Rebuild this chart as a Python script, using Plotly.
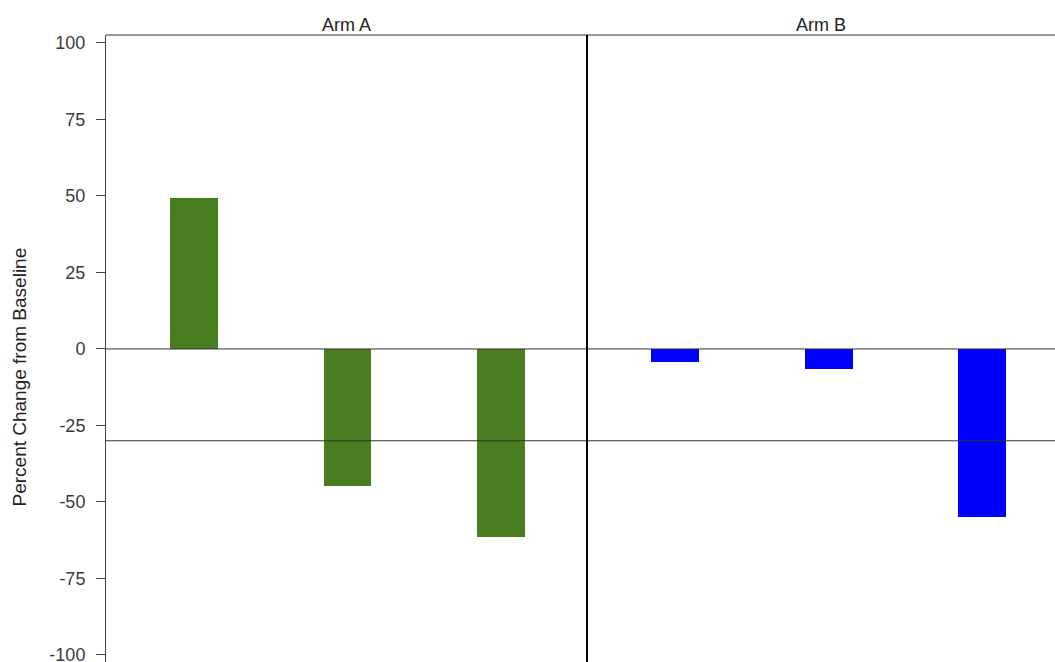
import plotly.graph_objects as go

# Percent change from baseline per subject, by treatment arm
subjects = [1, 2, 3]
arm_a_change = [49.2, -44.8, -61.5]
arm_b_change = [-4.2, -6.5, -54.8]
arm_names = ["Arm A", "Arm B"]
y_ticks = [-100, -75, -50, -25, 0, 25, 50, 75, 100]
y_tick_text = ["-100", "-75", "-50", "-25", "0", "25", "50", "75", "100"]
reference_levels = [0, -30]

W, H = 1055, 662
L, T = 106, 35
plot_w = W - L
split = (587 - L) / plot_w

fig = go.Figure()
fig.add_trace(go.Bar(x=subjects, y=arm_a_change, marker_color="#4a7d1f",
                     marker_line_width=0, width=0.31, xaxis="x", yaxis="y"))
fig.add_trace(go.Bar(x=subjects, y=arm_b_change, marker_color="#0000ff",
                     marker_line_width=0, width=0.31, xaxis="x2", yaxis="y"))

font = dict(family="Liberation Sans, Arial, sans-serif", size=18, color="#333333")

fig.update_layout(
    width=W, height=H,
    margin=dict(l=L, r=0, t=T, b=0, autoexpand=False),
    paper_bgcolor="white", plot_bgcolor="white",
    showlegend=False, font=font, bargap=0,
    xaxis=dict(domain=[0, split], range=[0.425, 3.56], showticklabels=False,
               showgrid=False, zeroline=False, ticks="", automargin=False),
    xaxis2=dict(domain=[split, 1], range=[0.425, 0.425 + (W - 587) / 153.5],
                showticklabels=False, showgrid=False, zeroline=False, ticks="",
                automargin=False),
    yaxis=dict(range=[-102.3, 102.6], tickvals=y_ticks, ticktext=y_tick_text,
               showgrid=False, zeroline=False, showline=True, automargin=False,
               linecolor="#444444", linewidth=1,
               ticks="outside", ticklen=9, tickcolor="#444444",
               ticklabelstandoff=7, ticklabeloverflow="allow",
               tickfont=dict(size=18, color="#3a3a44")),
)

# axis title
fig.add_annotation(text="Percent Change from Baseline", xref="paper", yref="paper",
                   x=0, y=0.5, xshift=-(L - 19), yshift=-29, textangle=-90,
                   showarrow=False, xanchor="center", yanchor="middle",
                   font=dict(size=19, color="#222222"))

# reference lines across both panels
for lvl in reference_levels:
    fig.add_shape(type="line", xref="paper", yref="y", x0=0, x1=1, y0=lvl, y1=lvl,
                  line=dict(color="#333333", width=1))

# panel frame: top border and divider between arms
fig.add_shape(type="line", xref="paper", yref="paper", x0=0, x1=1, y0=1, y1=1,
              line=dict(color="#333333", width=1))
fig.add_shape(type="line", xref="paper", yref="paper", x0=split, x1=split, y0=0, y1=1,
              line=dict(color="#000000", width=2))

# panel headers
for name, xa in zip(arm_names, ["x domain", "x2 domain"]):
    fig.add_annotation(text=name, xref=xa, yref="paper", x=0.5, y=1,
                       yanchor="bottom", yshift=-2, showarrow=False,
                       font=dict(size=18, color="#222222"))

fig.write_html("out.html")
